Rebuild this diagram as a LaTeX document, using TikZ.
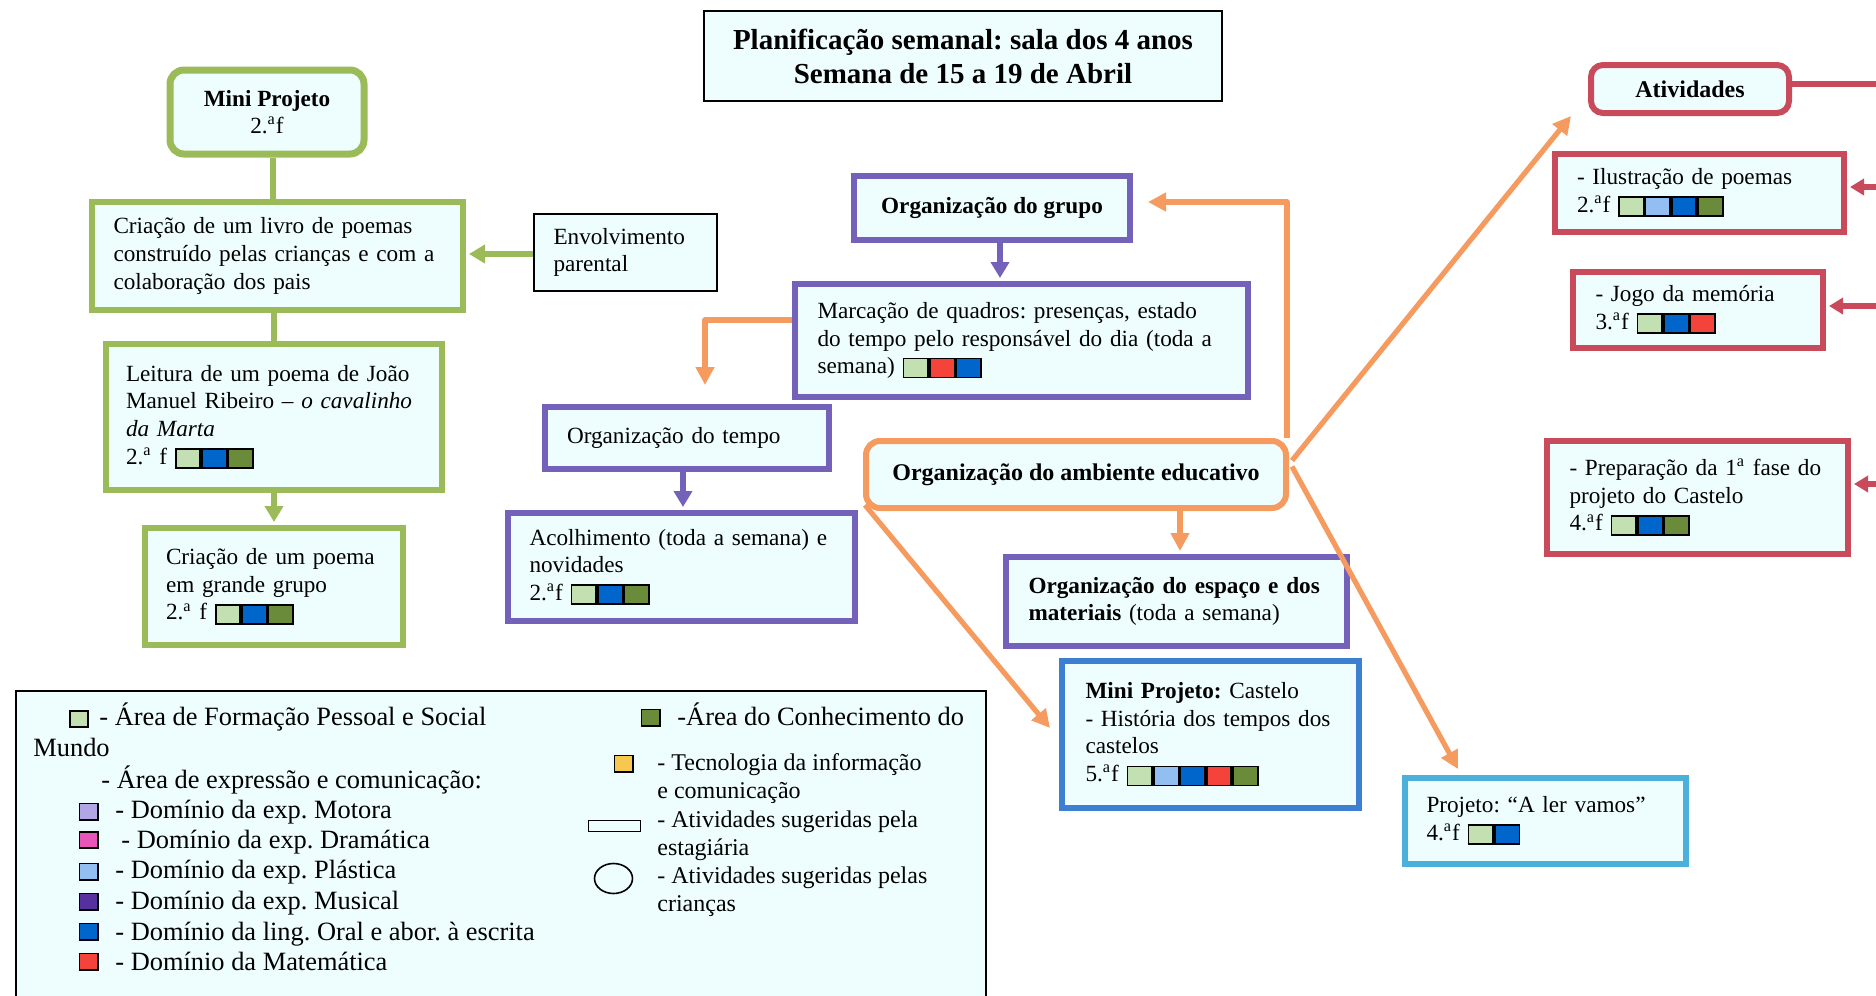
\documentclass[tikz,border=0pt]{standalone}
\usepackage{fontspec}
\setmainfont{Liberation Serif}
\usetikzlibrary{arrows.meta,shapes.geometric}
\frenchspacing
\hyphenpenalty=10000
\exhyphenpenalty=10000
\definecolor{fillc}{HTML}{EEFEFE}
\definecolor{cgreen}{HTML}{9BBB59}
\definecolor{cpurple}{HTML}{7461BA}
\definecolor{corange}{HTML}{F59B5F}
\definecolor{cred}{HTML}{C94B5B}
\definecolor{cblue}{HTML}{3D80D2}
\definecolor{ccyan}{HTML}{4BB0DA}
\definecolor{chLG}{HTML}{C3E0B3}
\definecolor{chLB}{HTML}{93BEF2}
\definecolor{chB}{HTML}{0066CC}
\definecolor{chR}{HTML}{F4433B}
\definecolor{chOl}{HTML}{6A8C3A}
\definecolor{chLav}{HTML}{B2A5E6}
\definecolor{chMag}{HTML}{E855B8}
\definecolor{chPur}{HTML}{55309E}
\definecolor{chY}{HTML}{F6C84E}
\newcommand\chipbox[1]{{\setlength\fboxsep{0pt}\setlength\fboxrule{0.9pt}\raisebox{-1.5pt}{\fcolorbox{black}{#1}{\rule{0pt}{8.6pt}\hspace{11.4pt}}}}}
\newcommand\ordA{\textsuperscript{a}}
\begin{document}
\begin{tikzpicture}[x=0.5pt,y=-0.5pt,
 box/.style={draw, fill=fillc, line width=3pt, inner sep=0pt, align=left, font=\fontsize{11.6}{13.8}\selectfont},
 gbox/.style={box, draw=cgreen},
 pbox/.style={box, draw=cpurple},
 rbox/.style={box, draw=cred},
 obox/.style={box, draw=corange},
 kbox/.style={box, draw=black, line width=1pt},
 gline/.style={draw=cgreen, line width=3pt},
 garr/.style={gline, -{Triangle[length=8pt,width=9pt]}, shorten >=1.5pt},
 parr/.style={draw=cpurple, line width=3pt, -{Triangle[length=8pt,width=9pt]}, shorten >=1.5pt},
 oarr/.style={draw=corange, line width=2.6pt, line join=round, -{Triangle[length=9pt,width=9pt]}},
 rline/.style={draw=cred, line width=2.6pt},
 rarr/.style={rline, -{Triangle[length=7pt,width=8pt]}, shorten >=1.5pt},
 lgsq/.style={draw=black, line width=0.8pt, minimum width=9.2pt, minimum height=8.2pt, inner sep=0pt},
 lgtxt/.style={inner sep=0pt, font=\fontsize{13.2}{15.2}\selectfont, align=left},
 lgtxtb/.style={inner sep=0pt, font=\fontsize{12}{14}\selectfont, align=left},
]
\useasboundingbox (0,0) rectangle (1876,996);

% title
\node[kbox, minimum width=259pt, minimum height=45pt, align=center, font=\fontsize{14.5}{17}\selectfont\bfseries] (title) at (963,56)
 {Planificação semanal: sala dos 4 anos\\Semana de 15 a 19 de Abril};

% green column
\node[gbox, minimum width=97pt, minimum height=42pt, rounded corners=7pt, line width=3.5pt, align=center] (miniproj) at (267,112)
 {\textbf{Mini Projeto}\\2.\ordA f};
\node[gbox, minimum width=185.5pt, minimum height=54pt, text width=164pt] (criacao) at (277.5,256)
 {Criação de um livro de poemas\\construído pelas crianças e com a\\colaboração dos pais};
\node[kbox, minimum width=91.5pt, minimum height=38.5pt, text width=72pt] (envolv) at (625.5,252.5)
 {Envolvimento\\parental};
\node[gbox, minimum width=168pt, minimum height=73pt, text width=148pt] (leitura) at (274,417)
 {Leitura de um poema de João\\Manuel Ribeiro – \textit{o cavalinho}\\\textit{da Marta}\\2.\ordA{} f \chipbox{chLG}\chipbox{chB}\chipbox{chOl}};
\node[gbox, minimum width=129pt, minimum height=58.5pt, text width=108pt] (poema) at (274,586.5)
 {Criação de um poema\\em grande grupo\\2.\ordA{} f \chipbox{chLG}\chipbox{chB}\chipbox{chOl}};

% purple / middle
\node[pbox, minimum width=138pt, minimum height=32pt, align=center] (orggrupo) at (992,208)
 {\textbf{Organização do grupo}};
\node[pbox, minimum width=226.5pt, minimum height=56.5pt, text width=204pt] (marcacao) at (1021.5,340.5)
 {Marcação de quadros: presenças, estado\\do tempo pelo responsável do dia (toda a\\semana) \chipbox{chLG}\chipbox{chR}\chipbox{chB}};
\node[pbox, minimum width=142pt, minimum height=31pt, text width=120pt] (orgtempo) at (687,438)
 {Organização do tempo};
\node[pbox, minimum width=173.5pt, minimum height=54pt, text width=152pt] (acolh) at (681.5,567)
 {Acolhimento (toda a semana) e\\novidades\\2.\ordA f \chipbox{chLG}\chipbox{chB}\chipbox{chOl}};
\node[obox, minimum width=210pt, minimum height=33.5pt, rounded corners=7pt, align=center, font=\fontsize{12}{13.8}\selectfont] (ambiente) at (1076,474.5)
 {\textbf{Organização do ambiente educativo}};
\node[pbox, minimum width=170.5pt, minimum height=44.5pt, text width=148pt] (espaco) at (1176.5,601.5)
 {\textbf{Organização do espaço e dos}\\\textbf{materiais} (toda a semana)};
\node[box, draw=cblue, minimum width=148.5pt, minimum height=73.5pt, text width=125pt] (castelo) at (1210.5,734.5)
 {\textbf{Mini Projeto:} Castelo\\- História dos tempos dos\\castelos\\5.\ordA f \chipbox{chLG}\chipbox{chLB}\chipbox{chB}\chipbox{chR}\chipbox{chOl}};
\node[box, draw=ccyan, minimum width=140.5pt, minimum height=43pt, text width=119pt] (lervamos) at (1545.5,821)
 {Projeto: “A ler vamos”\\4.\ordA f \chipbox{chLG}\chipbox{chB}};

% red column
\node[rbox, minimum width=99pt, minimum height=24pt, rounded corners=6pt, align=center, font=\fontsize{12}{13.8}\selectfont] (atividades) at (1690,89)
 {\textbf{Atividades}};
\node[rbox, minimum width=144.5pt, minimum height=39pt, text width=122.5pt] (ilustracao) at (1699.5,193)
 {- Ilustração de poemas\\2.\ordA f \chipbox{chLG}\chipbox{chLB}\chipbox{chB}\chipbox{chOl}};
\node[rbox, minimum width=125pt, minimum height=38pt, text width=102.5pt] (jogo) at (1698,310)
 {- Jogo da memória\\3.\ordA f \chipbox{chLG}\chipbox{chB}\chipbox{chR}};
\node[rbox, minimum width=150.5pt, minimum height=56.5pt, text width=128pt] (preparacao) at (1697.5,497.5)
 {- Preparação da 1\ordA{} fase do\\projeto do Castelo\\4.\ordA f \chipbox{chLG}\chipbox{chB}\chipbox{chOl}};

% green connectors
\draw[gline] ([xshift=3pt]miniproj.south) -- ([xshift=3pt]miniproj.south |- criacao.north);
\draw[gline] (leitura.north |- criacao.south) -- (leitura.north);
\draw[garr] (leitura.south) -- (poema.north);
\draw[garr] ([yshift=-0.75pt]envolv.west) -- ([yshift=-0.75pt]envolv.west -| criacao.east);

% purple connectors
\draw[parr] ([xshift=4pt]orggrupo.south) -- ([xshift=4pt]orggrupo.south |- marcacao.north);
\draw[parr] ([xshift=-2pt]orgtempo.south) -- ([xshift=-2pt]orgtempo.south |- acolh.north);

% orange connectors
\coordinate (tempoTip) at (705,385);
\draw[oarr] ([yshift=10.25pt]marcacao.west) -| (tempoTip);
\coordinate (grpTurn) at (1287,202);
\draw[oarr] (ambiente.north -| grpTurn) |- ([shift={(15,-6)}]orggrupo.east);
\draw[oarr] ([shift={(3,-14)}]ambiente.east) -- ([shift={(-17,0)}]atividades.south west);
\draw[oarr] ([shift={(3,-8)}]ambiente.east) -- ([shift={(-87.5,-6)}]lervamos.north);
\draw[oarr] ([shift={(2,-6)}]ambiente.south west) -- ([shift={(-9,-6.5)}]castelo.west);
\draw[oarr, shorten >=1.5pt] ([xshift=52pt]ambiente.south) -- ([xshift=52pt]ambiente.south |- espaco.north);

% red connectors (from off the right edge)
\coordinate (rAct) at (1880,84);
\coordinate (rIl) at (1880,187);
\coordinate (rJo) at (1880,306);
\coordinate (rPr) at (1880,484);
\draw[rline] (atividades.east |- rAct) -- (rAct);
\draw[rarr] (rIl) -- (rIl -| ilustracao.east);
\draw[rarr] (rJo) -- (rJo -| jogo.east);
\draw[rarr] (rPr) -- (rPr -| preparacao.east);

% legend
\node[draw=black, line width=1pt, fill=fillc, minimum width=485pt, minimum height=159pt, inner sep=0pt] (legend) at (501,850) {};
\node[lgsq, fill=chLG] (lgA) at (79,719) {};
\node[lgtxt, anchor=base west] (ltA) at (99,725) {- Área de Formação Pessoal e Social};
\node[lgsq, fill=chOl] (lgB) at (650.5,717.5) {};
\node[lgtxt, anchor=base west] (ltB) at (677,725) {-Área do Conhecimento do};
\node[lgtxt, anchor=base west] (ltM) at (33,756) {Mundo};
\node[lgtxt, anchor=base west] (ltE) at (101,788) {- Área de expressão e comunicação:};
\node[lgsq, fill=chLav] (lgMo) at (88.5,811.5) {};
\node[lgtxt, anchor=base west] (ltMo) at (115,818) {- Domínio da exp. Motora};
\node[lgsq, fill=chMag] (lgDr) at (88.5,840) {};
\node[lgtxt, anchor=base west] (ltDr) at (121,848) {- Domínio da exp. Dramática};
\node[lgsq, fill=chLB] (lgPl) at (88.5,871.5) {};
\node[lgtxt, anchor=base west] (ltPl) at (115,878) {- Domínio da exp. Plástica};
\node[lgsq, fill=chPur] (lgMu) at (88.5,901.5) {};
\node[lgtxt, anchor=base west] (ltMu) at (115,909) {- Domínio da exp. Musical};
\node[lgsq, fill=chB] (lgLi) at (88.5,931.5) {};
\node[lgtxt, anchor=base west] (ltLi) at (115,940) {- Domínio da ling. Oral e abor. à escrita};
\node[lgsq, fill=chR] (lgMa) at (88.5,961.5) {};
\node[lgtxt, anchor=base west] (ltMa) at (115,970) {- Domínio da Matemática};
\node[lgsq, fill=chY] (lgY) at (623.5,763.5) {};
\node[lgtxtb, anchor=west] (ltY) at (657,779) {- Tecnologia da informação\\e comunicação};
\node[draw=black, line width=0.8pt, fill=fillc, minimum width=26pt, minimum height=5.5pt, inner sep=0pt] (lgRe) at (614.5,826) {};
\node[lgtxtb, anchor=west] (ltRe) at (657,836) {- Atividades sugeridas pela\\estagiária};
\node[ellipse, draw=black, line width=0.8pt, fill=fillc, minimum width=19pt, minimum height=15pt, inner sep=0pt] (lgCi) at (613.5,878.5) {};
\node[lgtxtb, anchor=west] (ltCi) at (657,891.5) {- Atividades sugeridas pelas\\crianças};
\end{tikzpicture}
\end{document}
